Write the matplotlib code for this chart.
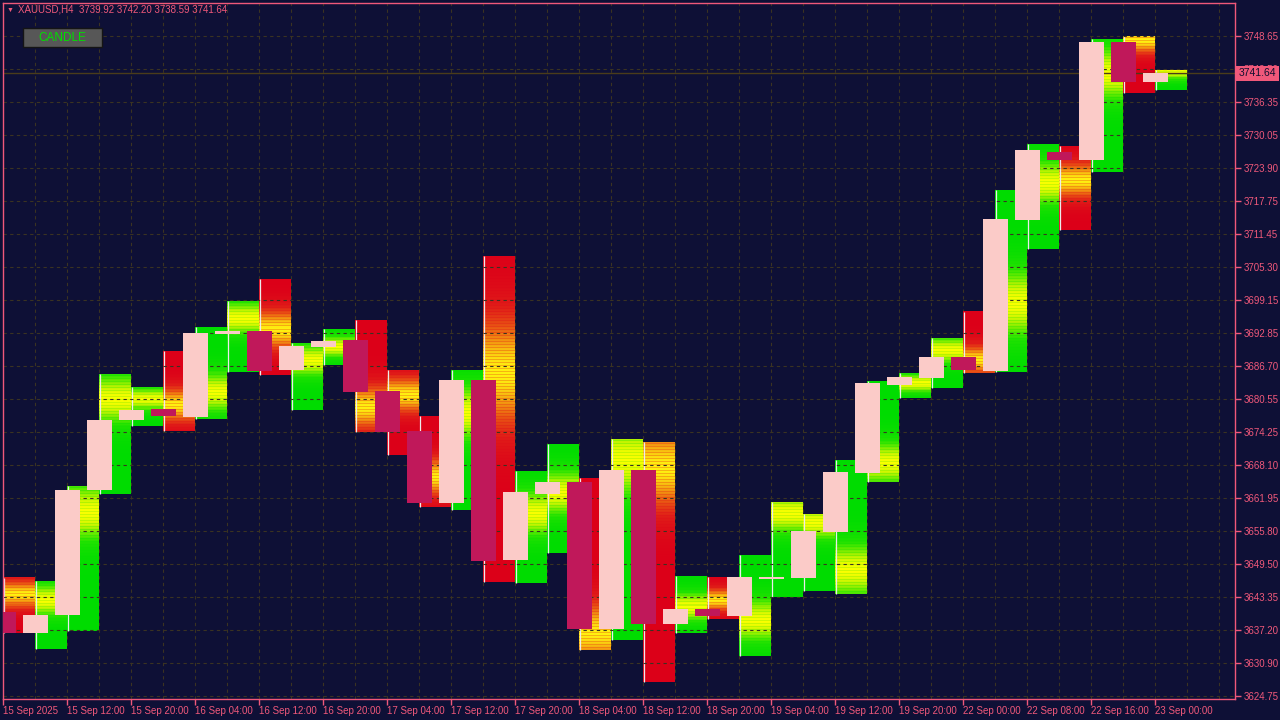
import numpy as np
import matplotlib
matplotlib.use('Agg')
import matplotlib.pyplot as plt
from matplotlib.colors import LinearSegmentedColormap
from matplotlib.patches import Rectangle
import matplotlib.transforms as mtransforms

plt.rcParams['font.family'] = ['Liberation Sans', 'DejaVu Sans']

# H4 bars, 15 Sep 2025 00:00 .. 23 Sep 2025 00:00
opens = [3640.52, 3636.58, 3639.95, 3663.42, 3676.56, 3678.63, 3677.12, 3692.71, 3693.27, 3685.95,
         3690.27, 3691.58, 3682.01, 3674.50, 3660.98, 3684.07, 3650.28, 3662.67, 3664.92, 3637.33,
         3667.18, 3638.26, 3641.08, 3639.77, 3646.71, 3646.90, 3655.54, 3666.61, 3683.13, 3684.45,
         3688.39, 3685.76, 3714.11, 3726.87, 3725.37, 3747.52, 3739.92]
highs = [3646.90, 3646.34, 3664.17, 3685.20, 3682.76, 3689.52, 3694.02, 3698.90, 3703.03, 3691.02,
         3693.65, 3695.33, 3685.95, 3677.31, 3685.95, 3707.35, 3666.99, 3672.06, 3665.67, 3672.99,
         3672.43, 3647.28, 3647.09, 3651.22, 3661.17, 3658.91, 3669.05, 3683.88, 3685.38, 3691.96,
         3696.84, 3719.74, 3728.38, 3728.00, 3748.09, 3748.65, 3742.20]
lows = [3636.50, 3633.57, 3636.95, 3662.67, 3675.44, 3674.50, 3676.75, 3685.57, 3685.01, 3678.44,
        3686.89, 3674.31, 3669.99, 3660.23, 3659.67, 3646.15, 3645.96, 3651.59, 3633.38, 3635.26,
        3627.38, 3636.58, 3639.20, 3632.26, 3643.33, 3644.46, 3643.90, 3664.92, 3680.69, 3682.57,
        3685.38, 3685.57, 3708.66, 3712.23, 3723.12, 3737.95, 3738.59]
closes = [3636.58, 3639.95, 3663.42, 3676.56, 3678.44, 3677.31, 3692.89, 3693.27, 3685.76, 3690.45,
          3691.39, 3681.82, 3674.31, 3660.98, 3684.07, 3650.09, 3663.05, 3664.92, 3637.33, 3667.18,
          3638.26, 3641.08, 3639.77, 3647.09, 3647.09, 3655.72, 3666.80, 3683.51, 3684.63, 3688.39,
          3685.95, 3714.30, 3727.25, 3725.37, 3747.52, 3739.92, 3741.64]
# price of highest volume inside each bar (the yellow band)
poc = [3643.7, 3642.8, 3659.3, 3680.5, 3680.5, 3679.4, 3681.8, 3695.7, 3693.5, 3687.8,
       3690.3, 3679.0, 3681.3, 3665.9, 3677.9, 3685.6, 3659.1, 3662.9, 3636.6, 3669.1,
       3667.7, 3641.5, 3642.8, 3639.0, 3659.1, 3657.4, 3648.4, 3668.5, 3683.5, 3689.7,
       3687.8, 3698.5, 3721.1, 3721.6, 3741.7, 3747.9, 3742.0]

ytick_labels = ['3624.75', '3630.90', '3637.20', '3643.35', '3649.50', '3655.80', '3661.95',
                '3668.10', '3674.25', '3680.55', '3686.70', '3692.85', '3699.15', '3705.30',
                '3711.45', '3717.75', '3723.90', '3730.05', '3736.35', '3742.50', '3748.65']
xtick_labels = ['15 Sep 2025', '15 Sep 12:00', '15 Sep 20:00', '16 Sep 04:00', '16 Sep 12:00',
                '16 Sep 20:00', '17 Sep 04:00', '17 Sep 12:00', '17 Sep 20:00', '18 Sep 04:00',
                '18 Sep 12:00', '18 Sep 20:00', '19 Sep 04:00', '19 Sep 12:00', '19 Sep 20:00',
                '22 Sep 00:00', '22 Sep 08:00', '22 Sep 16:00', '23 Sep 00:00']
last_price = 3741.64
header = 'XAUUSD,H4  3739.92 3742.20 3738.59 3741.64'

bg = '#0e1036'
fg = '#f0587a'
grid_c = '#3a3322'
bull_body = '#fbcbc8'
bear_body = '#c0185a'
bull_cmap = LinearSegmentedColormap.from_list(
    'bull', [(0, '#00dc00'), (0.35, '#20e200'), (0.6, '#70ec00'), (0.8, '#c0f400'), (1, '#f8ff00')])
bear_cmap = LinearSegmentedColormap.from_list(
    'bear', [(0, '#dc0018'), (0.3, '#e01c18'), (0.55, '#e85014'), (0.8, '#f4a010'), (1, '#fff010')])

W, H = 1280, 720
fig = plt.figure(figsize=(12.8, 7.2), dpi=100, facecolor=bg)
ax = fig.add_axes([2.5 / W, (H - 699) / H, (1235 - 2.5) / W, (699 - 2.5) / H])
ax.set_facecolor(bg)

ymin, ymax = 3624.75, 3748.65
k = (ymax - ymin) / 660.0   # price per pixel
yt = np.linspace(ymin, ymax, len(ytick_labels))

n = len(opens)
for i in range(1, 39):
    ax.axvline(i, color=grid_c, lw=0.8, ls=(0, (3, 3)), zorder=0.5)

for i in range(n):
    o, h, l, c = opens[i], highs[i], lows[i], closes[i]
    bull = c >= o
    rows = max(int((h - l) / k), 2)
    p = np.linspace(h, l, rows)
    w = 0.12 * (h - l) + 0.7
    val = np.exp(-0.5 * ((p - poc[i]) / w) ** 2)
    # thin horizontal banding like the volume rows of the original
    val = val * np.where(np.arange(rows) % 3 == 1, 0.85, 1.0)
    ax.imshow(val[:, None], cmap=bull_cmap if bull else bear_cmap, vmin=0, vmax=1,
              extent=(i, i + 1, l, h), aspect='auto', interpolation='nearest', zorder=1)
    ax.plot([i + 0.02, i + 0.02], [l, h], color='#ececec', lw=0.9, zorder=1.5,
            solid_capstyle='butt')

for v in yt:
    ax.axhline(v, color=grid_c, lw=0.8, ls=(0, (3, 3)), zorder=2)
ax.axhline(last_price, color='#4a3c1a', lw=1.0, zorder=2.5)

for i in range(n):
    o, c = opens[i], closes[i]
    bull = c >= o
    bot = min(o, c)
    ht = max(abs(c - o), 1.4 * k)
    ax.bar(i + 0.015, ht, bottom=bot, width=0.78, color=bull_body if bull else bear_body,
           linewidth=0, zorder=3)

ax.set_xlim(-0.016, 38.5)
ax.set_ylim(ymin - 3.5 * k, ymax + 33.5 * k)

ax.yaxis.tick_right()
ax.set_yticks(yt)
ax.set_yticklabels(ytick_labels)
ax.set_xticks(np.arange(0, 2 * len(xtick_labels), 2))
ax.set_xticklabels(xtick_labels, ha='left')
ax.tick_params(axis='both', colors=fg, labelcolor=fg, labelsize=7, length=4, width=1)
ax.tick_params(axis='x', pad=1)
ax.tick_params(axis='y', pad=2)
for s in ax.spines.values():
    s.set_color(fg)
    s.set_linewidth(1)

# current price label, covers the 3742.50 tick label as in the terminal
blend = mtransforms.blended_transform_factory(ax.transAxes, ax.transData)
ax.text(1.0 + 4 / 1232.5, last_price, '3741.64', transform=blend, ha='left', va='center',
        fontsize=7.5, color='#101030', zorder=10, clip_on=False,
        bbox=dict(boxstyle='square,pad=0.25', fc=fg, ec='none'))

# header
fig.text(7 / W, 1 - 10 / H, '\u25bc', color=fg, fontsize=5, ha='left', va='center')
fig.text(18 / W, 1 - 10 / H, header, color=fg, fontsize=7, ha='left', va='center')

# CANDLE button
fig.add_artist(Rectangle((23 / W, 1 - 47 / H), 79 / W, 19 / H, transform=fig.transFigure,
                         facecolor='#575757', edgecolor='#151515', lw=1))
fig.text(62 / W, 1 - 38 / H, 'CANDLE', color='#00e000', fontsize=8.5, ha='center', va='center')

fig.savefig('out.png', dpi=100, facecolor=bg)
